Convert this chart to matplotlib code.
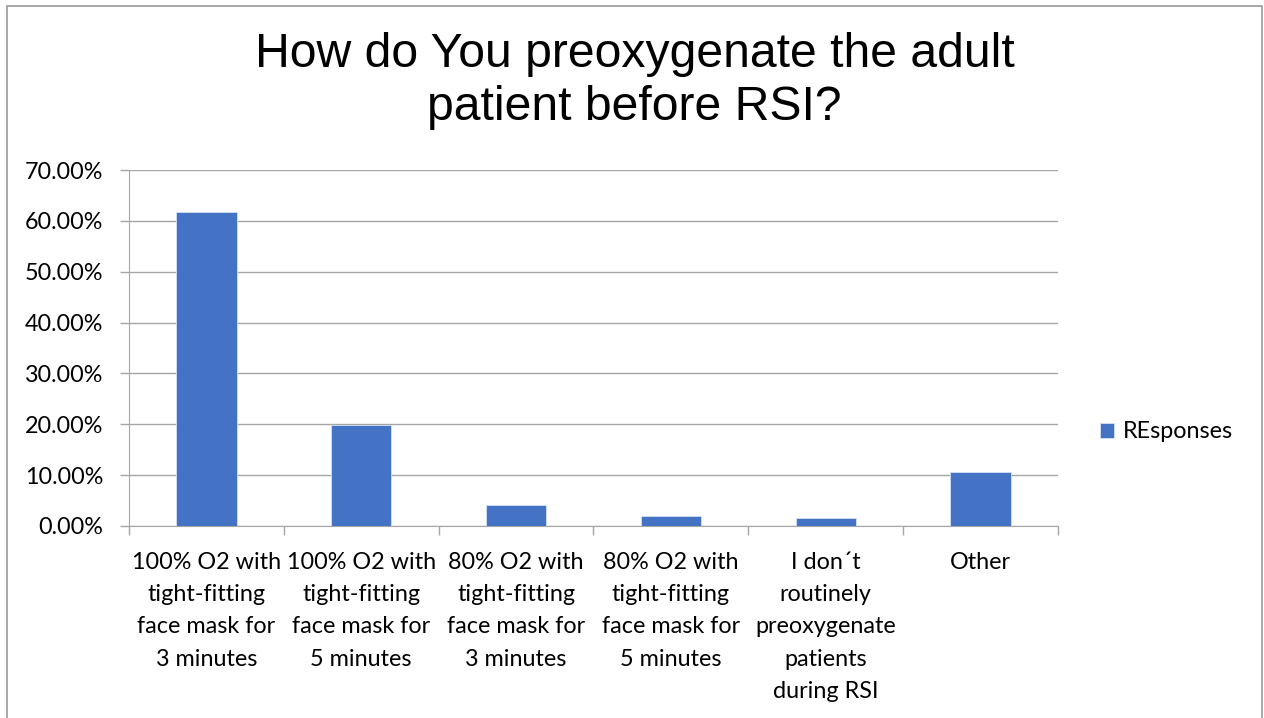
import matplotlib.pyplot as plt
from matplotlib.patches import Rectangle
from matplotlib.ticker import FuncFormatter

# Survey data
categories = ['100% O2 with\ntight-fitting\nface mask for\n3 minutes',
              '100% O2 with\ntight-fitting\nface mask for\n5 minutes',
              '80% O2 with\ntight-fitting\nface mask for\n3 minutes',
              '80% O2 with\ntight-fitting\nface mask for\n5 minutes',
              'I don\u00b4t\nroutinely\npreoxygenate\npatients\nduring RSI',
              'Other']
responses = [0.617, 0.199, 0.041, 0.020, 0.015, 0.106]
series_name = 'REsponses'
title = 'How do You preoxygenate the adult\npatient before RSI?'

W, H = 1264, 718
fig = plt.figure(figsize=(W / 100, H / 100), dpi=100)
ax = fig.add_axes([129 / W, 1 - 526 / H, (1058 - 129) / W, (526 - 170) / H])

x = list(range(len(categories)))
ax.bar(x, responses, width=0.39, color='#4472C4', edgecolor='#D6E0F2', linewidth=0.6,
       label=series_name, zorder=3)

ax.set_xlim(-0.5, len(categories) - 0.5)
ax.set_ylim(0, 0.70)
ax.set_yticks([i / 10 for i in range(8)])
ax.yaxis.set_major_formatter(FuncFormatter(lambda v, p: f'{v * 100:.2f}%'))
ax.grid(axis='y', color='#A6A6A6', linewidth=1.0, zorder=0)

# category boundaries as ticks, labels centred between them
ax.set_xticks([i - 0.5 for i in range(len(categories) + 1)])
ax.set_xticklabels([])
ax.set_xticks(x, minor=True)
ax.set_xticklabels(categories, minor=True, family='Lato', fontsize=16.8, linespacing=1.65,
                   va='top')
ax.tick_params(axis='x', which='minor', length=0, pad=19)
ax.tick_params(axis='x', which='major', length=6.5, color='#A6A6A6', width=1.0)
ax.tick_params(axis='y', length=6.5, color='#A6A6A6', width=1.0, pad=12, labelsize=16.8)
for lab in ax.get_yticklabels():
    lab.set_family('Lato')

for side in ['top', 'right']:
    ax.spines[side].set_visible(False)
ax.spines['left'].set_color('#A6A6A6')
ax.spines['bottom'].set_color('#A6A6A6')

fig.text(0.502, 1 - 32 / H, title, ha='center', va='top', family='Liberation Sans',
         fontsize=34.7, linespacing=1.24)

fig.legend(loc='center left', bbox_to_anchor=(1079 / W, 1 - 432 / H), frameon=False,
           prop={'family': 'Lato', 'size': 16.8}, handlelength=0.6, handleheight=0.6,
           handletextpad=0.4)

fig.add_artist(Rectangle((7 / W, -0.05), (1262 - 7) / W, 1 - 6 / H + 0.05,
                         transform=fig.transFigure, fill=False, edgecolor='#999999',
                         linewidth=1.2))

fig.savefig('out.png', dpi=100)
